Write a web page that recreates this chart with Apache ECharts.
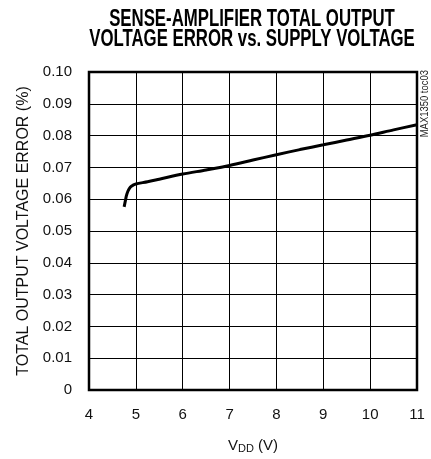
<!DOCTYPE html>
<html>
<head>
<meta charset="UTF-8">
<title></title>
<script src="https://cdn.jsdelivr.net/npm/echarts@6/dist/echarts.min.js"></script>
<style>
  html, body { margin: 0; padding: 0; background: #fff; }
</style>
</head>
<body>
<div id="main" style="width:431px;height:459px;"></div>
<script type="text/javascript">
// supply voltage (V) vs total output voltage error (%)
var vdd = [4.75, 4.78, 4.80, 4.83, 4.86, 4.90, 4.95, 5.0, 5.25, 5.5, 6.0, 6.5, 7.0, 7.5, 8.0, 8.5, 9.0, 9.5, 10.0, 10.5, 11.0];
var errPct = [0.0576, 0.0598, 0.0612, 0.0625, 0.0633, 0.0640, 0.0645, 0.0648, 0.0655, 0.0663, 0.0679, 0.0692, 0.0706, 0.0723, 0.0740, 0.0756, 0.0771, 0.0786, 0.0801, 0.0818, 0.0834];
var xTicks = [4, 5, 6, 7, 8, 9, 10, 11];
var yTicks = [0, 0.01, 0.02, 0.03, 0.04, 0.05, 0.06, 0.07, 0.08, 0.09, 0.10];
var titleLines = ['SENSE-AMPLIFIER TOTAL OUTPUT', 'VOLTAGE ERROR vs. SUPPLY VOLTAGE'];

var font = '"Liberation Sans", Arial, sans-serif';
var pts = [];
for (var i = 0; i < vdd.length; i++) pts.push([vdd[i], errPct[i]]);

// condensed-looking title: squeeze the text horizontally
var titleGraphics = titleLines.map(function (t, k) {
    return {
        type: 'text',
        x: 252,
        y: 20 + k * 20,
        scaleX: 0.73,
        style: {
            text: t,
            font: 'bold 23px ' + font,
            fill: '#000',
            textAlign: 'center',
            textVerticalAlign: 'middle'
        }
    };
});

var myChart = echarts.init(document.getElementById('main'));
var option = {
    animation: false,
    grid: {
        left: 89,
        top: 72,
        width: 328,
        height: 328,
        show: true,
        borderColor: '#000',
        borderWidth: 2.5,
        backgroundColor: '#fff'
    },
    xAxis: {
        type: 'value',
        min: xTicks[0],
        max: xTicks[xTicks.length - 1],
        interval: 1,
        axisLine: { show: false },
        axisTick: { show: false },
        axisLabel: { fontFamily: font, fontSize: 15, color: '#111', margin: 17 },
        splitLine: { lineStyle: { color: '#000', width: 1 } },
        name: '{a|V}{b|DD}{a| (V)}',
        nameLocation: 'middle',
        nameGap: 47,
        nameTextStyle: {
            rich: {
                a: { fontFamily: font, fontSize: 15, color: '#111' },
                b: { fontFamily: font, fontSize: 11, color: '#111', padding: [6, 0, 0, 0] }
            }
        }
    },
    yAxis: {
        type: 'value',
        min: yTicks[0],
        max: yTicks[yTicks.length - 1],
        interval: 0.01,
        axisLine: { show: false },
        axisTick: { show: false },
        axisLabel: {
            fontFamily: font, fontSize: 15, color: '#111', margin: 17,
            formatter: function (v) { return v === 0 ? '0' : v.toFixed(2); }
        },
        splitLine: { lineStyle: { color: '#000', width: 1 } },
        name: 'TOTAL OUTPUT VOLTAGE ERROR (%)',
        nameLocation: 'middle',
        nameGap: 55,
        nameTextStyle: { fontFamily: font, fontSize: 16, color: '#111' }
    },
    graphic: titleGraphics.concat([{
        // part number tag, reads bottom-to-top beside the frame
        type: 'text',
        x: 419,
        y: 70,
        rotation: Math.PI / 2,
        scaleX: 0.86,
        style: {
            text: 'MAX1350 toc03', font: '11px ' + font, fill: '#222',
            textAlign: 'right', textVerticalAlign: 'top'
        }
    }]),
    series: [{
        type: 'line',
        data: pts,
        smooth: 0.3,
        showSymbol: false,
        lineStyle: { color: '#000', width: 3 }
    }]
};
myChart.setOption(option);
</script>
</body>
</html>
